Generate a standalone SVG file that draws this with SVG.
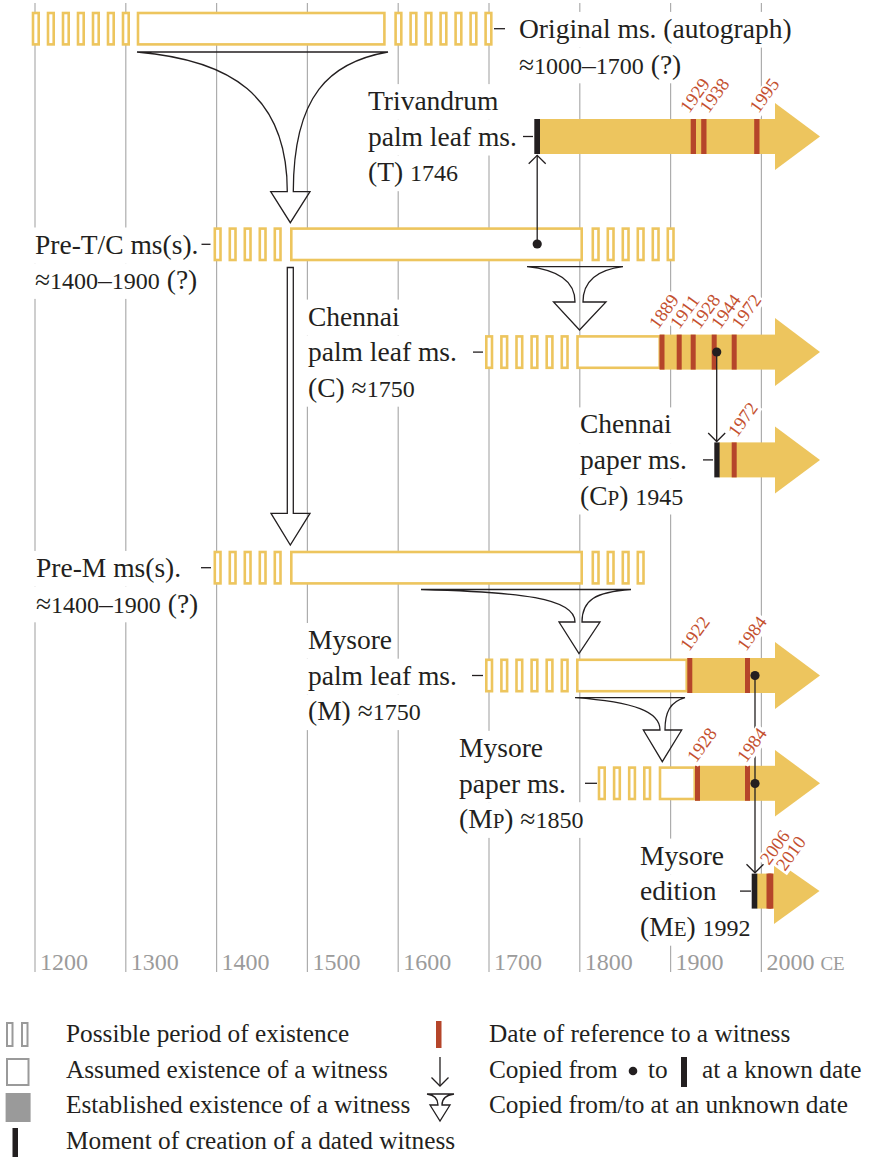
<svg xmlns="http://www.w3.org/2000/svg" width="874" height="1157" viewBox="0 0 874 1157">
<style>
.g{stroke:#adadad;stroke-width:1.2}
.bx{fill:#fff}
.po{fill:#fff;stroke:#edc55e;stroke-width:2.6}
.y{fill:#edc55e}
.r{fill:#b5452a}
.k{fill:#231f20}
.ln{fill:none;stroke:#231f20;stroke-width:1.3}
.t{font-family:"Liberation Serif",serif;font-size:27.5px;fill:#231f20}
.n{font-size:24px}
.sc{font-size:21px}
.yr{font-family:"Liberation Serif",serif;font-size:18.5px;fill:#c4502f}
.hb{fill:#fff}
.ax{font-family:"Liberation Serif",serif;font-size:24px;fill:#9b9b9b}
.lg{font-family:"Liberation Serif",serif;font-size:25.3px;fill:#231f20}
.gi{fill:#fff;stroke:#9a9a9a;stroke-width:2}
</style>
<defs>
<marker id="ah" viewBox="-10 -10 20 20" markerWidth="20" markerHeight="20" markerUnits="userSpaceOnUse" orient="auto">
<polyline points="-8.5,-8.5 0,0 -8.5,8.5" fill="none" stroke="#231f20" stroke-width="1.3"/>
</marker>
</defs>
<rect width="874" height="1157" fill="#fff"/>
<g id="grid">
<line class="g" x1="35" y1="3" x2="35" y2="972"/>
<line class="g" x1="125.8" y1="3" x2="125.8" y2="972"/>
<line class="g" x1="216.6" y1="3" x2="216.6" y2="972"/>
<line class="g" x1="307.4" y1="3" x2="307.4" y2="972"/>
<line class="g" x1="398.2" y1="3" x2="398.2" y2="972"/>
<line class="g" x1="489" y1="3" x2="489" y2="972"/>
<line class="g" x1="579.8" y1="3" x2="579.8" y2="972"/>
<line class="g" x1="670.6" y1="3" x2="670.6" y2="972"/>
<line class="g" x1="761.4" y1="3" x2="761.4" y2="972"/>
</g>
<g id="axis">
<text class="ax" x="40" y="970">1200</text>
<text class="ax" x="130.8" y="970">1300</text>
<text class="ax" x="221.6" y="970">1400</text>
<text class="ax" x="312.4" y="970">1500</text>
<text class="ax" x="403.2" y="970">1600</text>
<text class="ax" x="494" y="970">1700</text>
<text class="ax" x="584.8" y="970">1800</text>
<text class="ax" x="675.6" y="970">1900</text>
<text class="ax" x="766.4" y="970">2000 <tspan font-size="19">CE</tspan></text>
</g>
<g id="original">
<rect class="bx" x="514" y="11.9" width="286" height="35.7"/>
<rect class="bx" x="514" y="47.6" width="180" height="35.7"/>
<rect class="po" x="33" y="13" width="5.7" height="31.4"/>
<rect class="po" x="48" y="13" width="5.7" height="31.4"/>
<rect class="po" x="63" y="13" width="5.7" height="31.4"/>
<rect class="po" x="78" y="13" width="5.7" height="31.4"/>
<rect class="po" x="93" y="13" width="5.7" height="31.4"/>
<rect class="po" x="108" y="13" width="5.7" height="31.4"/>
<rect class="po" x="123" y="13" width="5.7" height="31.4"/>
<rect class="po" x="138" y="13" width="246.4" height="31.4"/>
<rect class="po" x="395.6" y="13" width="5.7" height="31.4"/>
<rect class="po" x="410.6" y="13" width="5.7" height="31.4"/>
<rect class="po" x="425.6" y="13" width="5.7" height="31.4"/>
<rect class="po" x="440.6" y="13" width="5.7" height="31.4"/>
<rect class="po" x="455.6" y="13" width="5.7" height="31.4"/>
<rect class="po" x="470.6" y="13" width="5.7" height="31.4"/>
<rect class="po" x="485.6" y="13" width="5.7" height="31.4"/>
<line class="ln" x1="494" y1="28.7" x2="505" y2="28.7"/>
<text class="t" x="519" y="37.9">Original ms. (autograph)</text>
<text class="t" x="519" y="73.6">≈<tspan class="n">1000</tspan>–<tspan class="n">1700</tspan> (?)</text>
</g>
<g id="trivandrum">
<rect class="bx" x="364" y="84.1" width="139" height="35.7"/>
<rect class="bx" x="364" y="119.8" width="157" height="35.7"/>
<rect class="bx" x="364" y="155.5" width="98" height="35.7"/>
<rect class="y" x="540" y="119" width="236" height="35"/>
<polygon class="y" points="775,103 820,136.5 775,170"/>
<rect class="k" x="534.3" y="119" width="5.7" height="35"/>
<rect class="r" x="690.7" y="119" width="5.3" height="35"/>
<rect class="r" x="701.2" y="119" width="5.3" height="35"/>
<rect class="r" x="754.2" y="119" width="5.3" height="35"/>
<line class="ln" x1="523" y1="136.5" x2="533" y2="136.5"/>
<text class="t" x="368" y="110.1">Trivandrum</text>
<text class="t" x="368" y="145.7">palm leaf ms.</text>
<text class="t" x="368" y="181.4">(T) <tspan class="n">1746</tspan></text>
</g>
<g id="pre-tc">
<rect class="bx" x="32" y="227.5" width="169" height="35.7"/>
<rect class="bx" x="32" y="263.2" width="170" height="35.7"/>
<rect class="po" x="214.8" y="228.6" width="5.7" height="31.4"/>
<rect class="po" x="229.8" y="228.6" width="5.7" height="31.4"/>
<rect class="po" x="244.8" y="228.6" width="5.7" height="31.4"/>
<rect class="po" x="259.8" y="228.6" width="5.7" height="31.4"/>
<rect class="po" x="274.8" y="228.6" width="5.7" height="31.4"/>
<rect class="po" x="291.3" y="228.6" width="290.4" height="31.4"/>
<rect class="po" x="592.8" y="228.6" width="5.7" height="31.4"/>
<rect class="po" x="607.8" y="228.6" width="5.7" height="31.4"/>
<rect class="po" x="622.8" y="228.6" width="5.7" height="31.4"/>
<rect class="po" x="637.8" y="228.6" width="5.7" height="31.4"/>
<rect class="po" x="652.8" y="228.6" width="5.7" height="31.4"/>
<rect class="po" x="667.8" y="228.6" width="5.7" height="31.4"/>
<line class="ln" x1="201.5" y1="244.3" x2="210.5" y2="244.3"/>
<text class="t" x="35" y="253.5">Pre-T/C ms(s).</text>
<text class="t" x="35" y="289.2">≈<tspan class="n">1400</tspan>–<tspan class="n">1900</tspan> (?)</text>
</g>
<g id="chennai-palm">
<rect class="bx" x="304" y="299.6" width="100" height="35.7"/>
<rect class="bx" x="304" y="335.3" width="157" height="35.7"/>
<rect class="bx" x="304" y="371" width="115" height="35.7"/>
<rect class="po" x="486.3" y="336.4" width="5.7" height="31.4"/>
<rect class="po" x="501.4" y="336.4" width="5.7" height="31.4"/>
<rect class="po" x="516.5" y="336.4" width="5.7" height="31.4"/>
<rect class="po" x="531.6" y="336.4" width="5.7" height="31.4"/>
<rect class="po" x="546.7" y="336.4" width="5.7" height="31.4"/>
<rect class="po" x="561.8" y="336.4" width="5.7" height="31.4"/>
<rect class="po" x="577.5" y="336.4" width="82.2" height="31.4"/>
<rect class="y" x="660" y="334.6" width="116" height="35"/>
<polygon class="y" points="775,318.1 820,352.1 775,386.1"/>
<rect class="r" x="659.5" y="334.6" width="5" height="35"/>
<rect class="r" x="676.7" y="334.6" width="5" height="35"/>
<rect class="r" x="690.7" y="334.6" width="5" height="35"/>
<rect class="r" x="711.7" y="334.6" width="5" height="35"/>
<rect class="r" x="731.7" y="334.6" width="5" height="35"/>
<line class="ln" x1="473" y1="352.1" x2="483" y2="352.1"/>
<text class="t" x="308" y="325.6">Chennai</text>
<text class="t" x="308" y="361.3">palm leaf ms.</text>
<text class="t" x="308" y="397">(C) ≈<tspan class="n">1750</tspan></text>
</g>
<g id="chennai-paper">
<rect class="bx" x="576" y="407.4" width="100" height="35.7"/>
<rect class="bx" x="576" y="443.1" width="115" height="35.7"/>
<rect class="bx" x="576" y="478.8" width="111" height="35.7"/>
<rect class="y" x="719" y="442.4" width="57" height="35"/>
<polygon class="y" points="775,426.4 820,459.9 775,493.4"/>
<rect class="k" x="714.3" y="442.4" width="5.3" height="35"/>
<rect class="r" x="731.7" y="442.4" width="5" height="35"/>
<line class="ln" x1="703" y1="459.9" x2="713" y2="459.9"/>
<text class="t" x="580" y="433.4">Chennai</text>
<text class="t" x="580" y="469.1">paper ms.</text>
<text class="t" x="580" y="504.8">(C<tspan class="sc">P</tspan>) <tspan class="n">1945</tspan></text>
</g>
<g id="pre-m">
<rect class="bx" x="32" y="550.9" width="151" height="35.7"/>
<rect class="bx" x="32" y="586.6" width="170" height="35.7"/>
<rect class="po" x="214.8" y="552" width="5.7" height="31.4"/>
<rect class="po" x="229.8" y="552" width="5.7" height="31.4"/>
<rect class="po" x="244.8" y="552" width="5.7" height="31.4"/>
<rect class="po" x="259.8" y="552" width="5.7" height="31.4"/>
<rect class="po" x="274.8" y="552" width="5.7" height="31.4"/>
<rect class="po" x="291.3" y="552" width="290.4" height="31.4"/>
<rect class="po" x="592.8" y="552" width="5.7" height="31.4"/>
<rect class="po" x="607.8" y="552" width="5.7" height="31.4"/>
<rect class="po" x="622.8" y="552" width="5.7" height="31.4"/>
<rect class="po" x="637.8" y="552" width="5.7" height="31.4"/>
<line class="ln" x1="201" y1="567.7" x2="211" y2="567.7"/>
<text class="t" x="36" y="576.9">Pre-M ms(s).</text>
<text class="t" x="36" y="612.6">≈<tspan class="n">1400</tspan>–<tspan class="n">1900</tspan> (?)</text>
</g>
<g id="mysore-palm">
<rect class="bx" x="304" y="623" width="92" height="35.7"/>
<rect class="bx" x="304" y="658.7" width="157" height="35.7"/>
<rect class="bx" x="304" y="694.4" width="121" height="35.7"/>
<rect class="po" x="486.3" y="659.8" width="5.7" height="31.4"/>
<rect class="po" x="501.4" y="659.8" width="5.7" height="31.4"/>
<rect class="po" x="516.5" y="659.8" width="5.7" height="31.4"/>
<rect class="po" x="531.6" y="659.8" width="5.7" height="31.4"/>
<rect class="po" x="546.7" y="659.8" width="5.7" height="31.4"/>
<rect class="po" x="561.8" y="659.8" width="5.7" height="31.4"/>
<rect class="po" x="577.3" y="659.8" width="109.4" height="31.4"/>
<rect class="y" x="687" y="658" width="89" height="35"/>
<polygon class="y" points="775,642 820,675.5 775,709"/>
<rect class="r" x="687.3" y="658" width="5" height="35"/>
<rect class="r" x="745" y="658" width="5" height="35"/>
<line class="ln" x1="472" y1="675.5" x2="483" y2="675.5"/>
<text class="t" x="308" y="649">Mysore</text>
<text class="t" x="308" y="684.7">palm leaf ms.</text>
<text class="t" x="308" y="720.4">(M) ≈<tspan class="n">1750</tspan></text>
</g>
<g id="mysore-paper">
<rect class="bx" x="455" y="730.8" width="92" height="35.7"/>
<rect class="bx" x="455" y="766.5" width="115" height="35.7"/>
<rect class="bx" x="455" y="802.2" width="133" height="35.7"/>
<rect class="po" x="599" y="767.6" width="5.7" height="31.4"/>
<rect class="po" x="614.1" y="767.6" width="5.7" height="31.4"/>
<rect class="po" x="629.2" y="767.6" width="5.7" height="31.4"/>
<rect class="po" x="644.3" y="767.6" width="5.7" height="31.4"/>
<rect class="po" x="660" y="767.6" width="34.7" height="31.4"/>
<rect class="y" x="695" y="765.8" width="81" height="35"/>
<polygon class="y" points="775,750 820,783.3 775,816.6"/>
<rect class="r" x="695" y="765.8" width="5" height="35"/>
<rect class="r" x="745" y="765.8" width="5" height="35"/>
<line class="ln" x1="585" y1="783.3" x2="597" y2="783.3"/>
<text class="t" x="459" y="756.8">Mysore</text>
<text class="t" x="459" y="792.5">paper ms.</text>
<text class="t" x="459" y="828.2">(M<tspan class="sc">P</tspan>) ≈<tspan class="n">1850</tspan></text>
</g>
<g id="mysore-edition">
<rect class="bx" x="636" y="838.6" width="92" height="35.7"/>
<rect class="bx" x="636" y="874.3" width="84" height="35.7"/>
<rect class="bx" x="636" y="910" width="118" height="35.7"/>
<rect class="y" x="757" y="873.6" width="19" height="35"/>
<polygon class="y" points="774,859.3 819.5,891.1 774,923.9"/>
<rect class="k" x="751.7" y="873.6" width="5.6" height="35"/>
<rect class="r" x="766.5" y="873.6" width="5" height="35"/>
<rect class="r" x="768.3" y="873.6" width="5" height="35"/>
<line class="ln" x1="740" y1="891.1" x2="751" y2="891.1"/>
<text class="t" x="640" y="864.6">Mysore</text>
<text class="t" x="640" y="900.3">edition</text>
<text class="t" x="640" y="936">(M<tspan class="sc">E</tspan>) <tspan class="n">1992</tspan></text>
</g>
<g id="connectors">
<path class="ln" d="M137,52 C230,60 287.3,95 287.3,191.7 H270.7 L290.3,222.7 L310,191.7 H293.3 C293.3,95 330,62 388,52 Z"/>
<path class="ln" d="M287.3,267.5 H293.3 V513.3 H310 L290.3,545 L271,513.3 H287.3 Z"/>
<path class="ln" d="M527,266.7 C560,270 575,282 575,302 H553.5 L579.5,330 L606,302 H583 C583,282 596,270 623,266.7 Z"/>
<path class="ln" d="M421,589.5 C520,592 575,598 575,622 H559 L579,653.5 L600,622 H582 C582,600 595,592 631,589.5 Z"/>
<path class="ln" d="M575,697.7 C635,702 660,712 660,730 H643.3 L662.3,761.7 L681.7,730 H665 C665,712 670,702 685,697.7 Z"/>
<line class="ln" x1="537.2" y1="244" x2="537.2" y2="155.3" marker-end="url(#ah)"/>
<circle class="k" cx="537.2" cy="244" r="4.6"/>
<line class="ln" x1="716.7" y1="352" x2="716.7" y2="441.5" marker-end="url(#ah)"/>
<circle class="k" cx="716.7" cy="352" r="4.6"/>
<line class="ln" x1="755" y1="675.5" x2="755" y2="872.8" marker-end="url(#ah)"/>
<circle class="k" cx="755" cy="675.5" r="4.6"/>
<circle class="k" cx="755" cy="783.5" r="4.6"/>
</g>
<g id="ref-halos">
<rect class="hb" x="-1.5" y="-14" width="40" height="17.5" transform="translate(689,114) rotate(-54)"/>
<rect class="hb" x="-1.5" y="-14" width="40" height="17.5" transform="translate(708.5,114) rotate(-54)"/>
<rect class="hb" x="-1.5" y="-14" width="40" height="17.5" transform="translate(758.5,114) rotate(-54)"/>
<rect class="hb" x="-1.5" y="-14" width="40" height="17.5" transform="translate(658,330) rotate(-54)"/>
<rect class="hb" x="-1.5" y="-14" width="40" height="17.5" transform="translate(679,330) rotate(-54)"/>
<rect class="hb" x="-1.5" y="-14" width="40" height="17.5" transform="translate(699.5,330) rotate(-54)"/>
<rect class="hb" x="-1.5" y="-14" width="40" height="17.5" transform="translate(720,330) rotate(-54)"/>
<rect class="hb" x="-1.5" y="-14" width="40" height="17.5" transform="translate(740.5,330) rotate(-54)"/>
<rect class="hb" x="-1.5" y="-14" width="40" height="17.5" transform="translate(737,438) rotate(-54)"/>
<rect class="hb" x="-1.5" y="-14" width="40" height="17.5" transform="translate(689,652) rotate(-54)"/>
<rect class="hb" x="-1.5" y="-14" width="40" height="17.5" transform="translate(746,652) rotate(-54)"/>
<rect class="hb" x="-1.5" y="-14" width="40" height="17.5" transform="translate(696,763.5) rotate(-54)"/>
<rect class="hb" x="-1.5" y="-14" width="40" height="17.5" transform="translate(746,763.5) rotate(-54)"/>
<rect class="hb" x="-1.5" y="-14" width="40" height="17.5" transform="translate(769,866) rotate(-54)"/>
<rect class="hb" x="-1.5" y="-14" width="40" height="17.5" transform="translate(785,872) rotate(-54)"/>
</g>
<g id="ref-dates">
<text class="yr" transform="translate(689,114) rotate(-54)">1929</text>
<text class="yr" transform="translate(708.5,114) rotate(-54)">1938</text>
<text class="yr" transform="translate(758.5,114) rotate(-54)">1995</text>
<text class="yr" transform="translate(658,330) rotate(-54)">1889</text>
<text class="yr" transform="translate(679,330) rotate(-54)">1911</text>
<text class="yr" transform="translate(699.5,330) rotate(-54)">1928</text>
<text class="yr" transform="translate(720,330) rotate(-54)">1944</text>
<text class="yr" transform="translate(740.5,330) rotate(-54)">1972</text>
<text class="yr" transform="translate(737,438) rotate(-54)">1972</text>
<text class="yr" transform="translate(689,652) rotate(-54)">1922</text>
<text class="yr" transform="translate(746,652) rotate(-54)">1984</text>
<text class="yr" transform="translate(696,763.5) rotate(-54)">1928</text>
<text class="yr" transform="translate(746,763.5) rotate(-54)">1984</text>
<text class="yr" transform="translate(769,866) rotate(-54)">2006</text>
<text class="yr" transform="translate(785,872) rotate(-54)">2010</text>
</g>
<g id="legend">
<rect class="gi" x="7" y="1023" width="5.5" height="23"/>
<rect class="gi" x="22" y="1023" width="5.5" height="23"/>
<rect class="gi" x="7" y="1059" width="21.5" height="26"/>
<rect x="5.6" y="1093" width="25" height="29" fill="#9a9a9a"/>
<rect class="k" x="12.5" y="1128" width="5.5" height="29"/>
<text class="lg" x="66" y="1041.5">Possible period of existence</text>
<text class="lg" x="66" y="1077.5">Assumed existence of a witness</text>
<text class="lg" x="66" y="1113">Established existence of a witness</text>
<text class="lg" x="66" y="1148.5">Moment of creation of a dated witness</text>
<rect class="r" x="436" y="1021" width="5.5" height="27"/>
<line class="ln" x1="440" y1="1057" x2="440" y2="1086" marker-end="url(#ah)"/>
<path class="ln" d="M427,1094 C434,1095 438,1099 438,1105 H430 L440,1121 L450,1105 H442 C442,1099 446,1095 454,1094 Z"/>
<text class="lg" x="489" y="1041.5">Date of reference to a witness</text>
<text class="lg" x="489" y="1077.5">Copied from</text>
<circle class="k" cx="633" cy="1071" r="4.3"/>
<text class="lg" x="648" y="1077.5">to</text>
<rect class="k" x="681" y="1057" width="6" height="30"/>
<text class="lg" x="702" y="1077.5">at a known date</text>
<text class="lg" x="489" y="1113">Copied from/to at an unknown date</text>
</g>
</svg>
